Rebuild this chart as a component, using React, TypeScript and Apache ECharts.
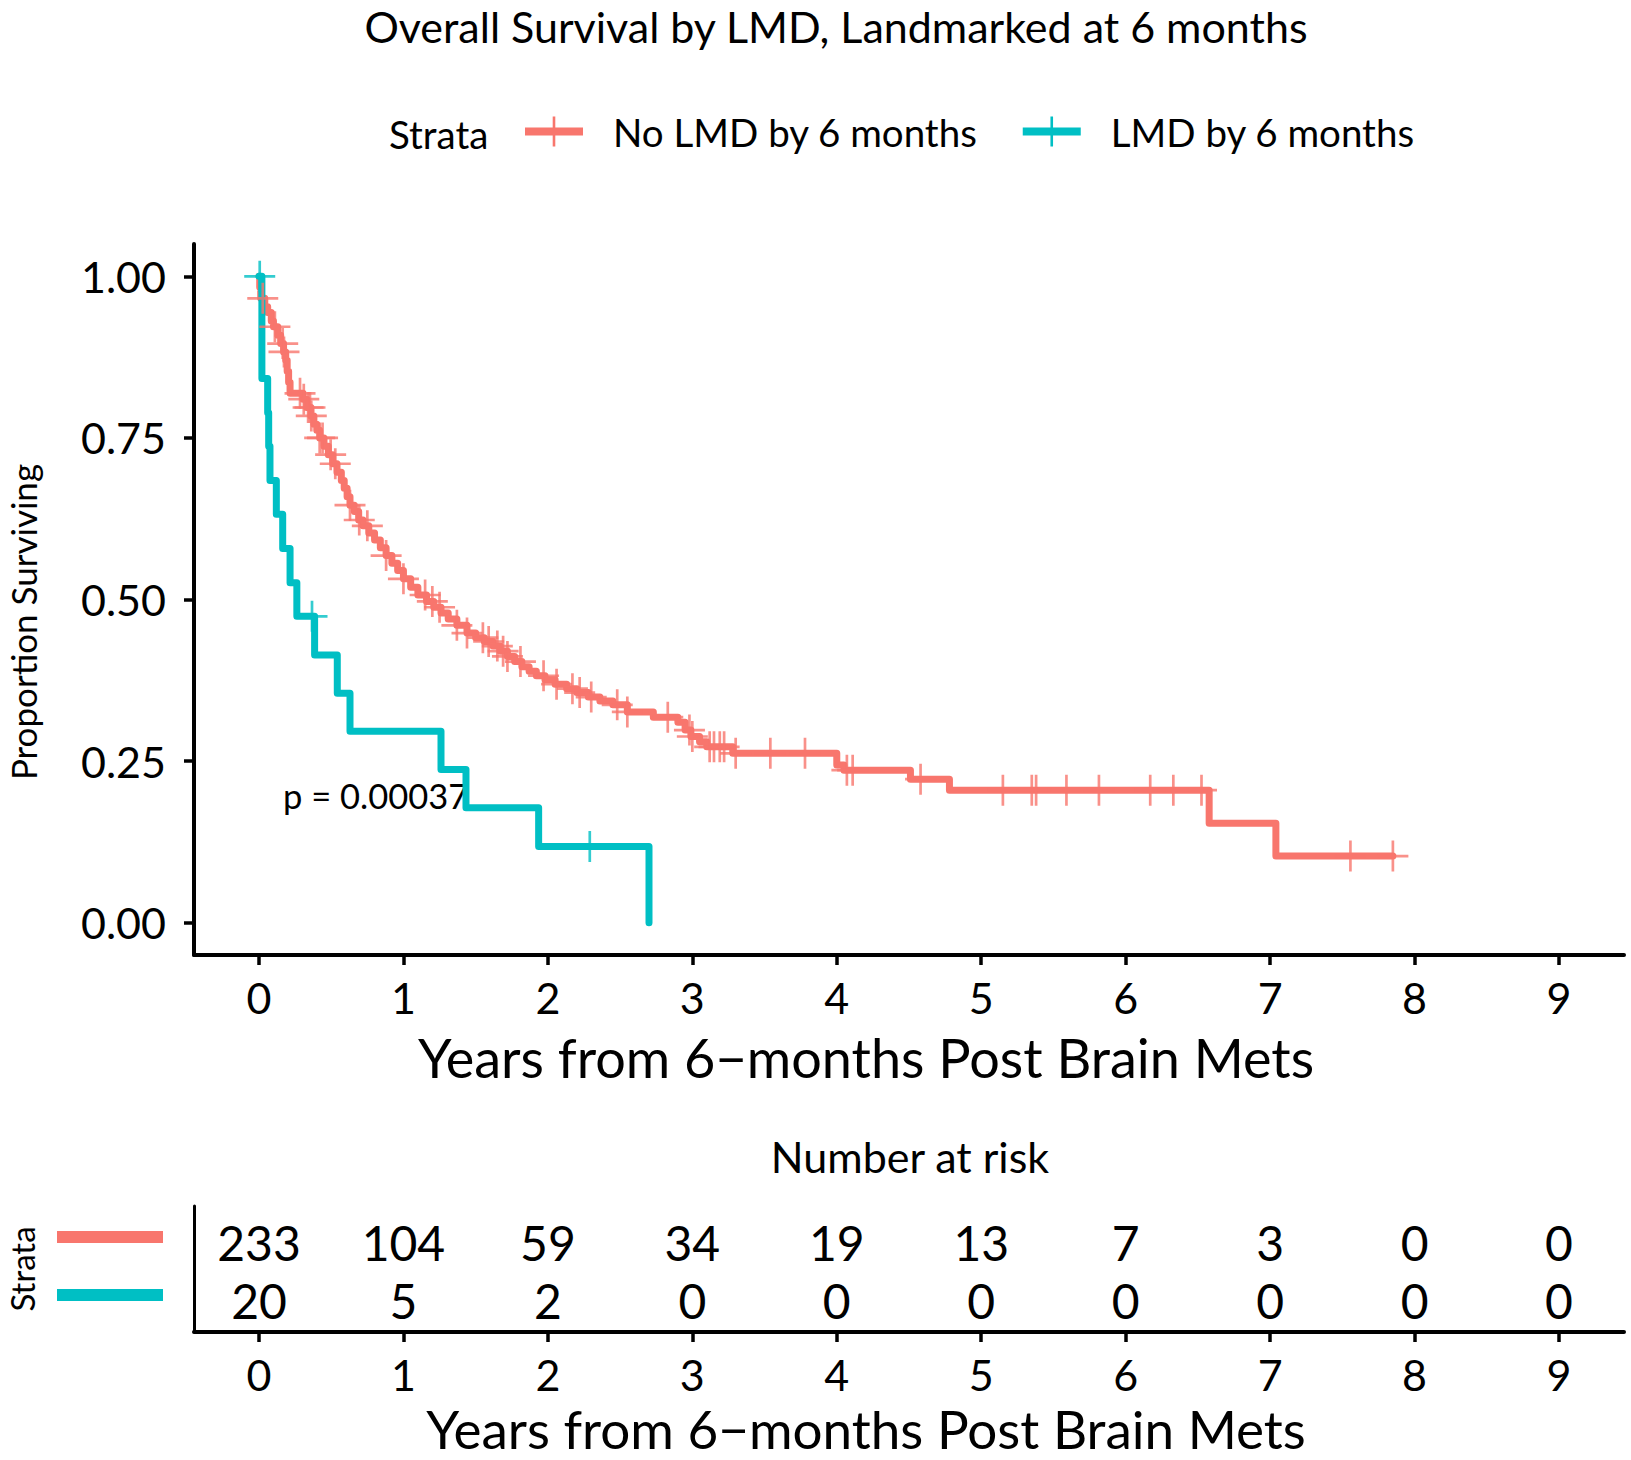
import React, { useEffect, useRef } from "react";
import * as echarts from "echarts";

const RED = "#F8766D";
const TEAL = "#00BFC4";
const FONT = "Lato";

const titleText = "Overall Survival by LMD, Landmarked at 6 months";
const legendTitle = "Strata";
const strata = ["No LMD by 6 months", "LMD by 6 months"];
const xTitle = "Years from 6\u2212months Post Brain Mets";
const yTitle = "Proportion Surviving";
const riskTitle = "Number at risk";
const pValueText = "p = 0.00037";

// Kaplan-Meier steps: time of drop and survival after it
const noLmdTimes = [0, 0.005, 0.012, 0.04, 0.06, 0.085, 0.1, 0.13, 0.15, 0.17, 0.185, 0.195, 0.205, 0.215, 0.305, 0.33, 0.36, 0.38, 0.4, 0.42, 0.45, 0.48, 0.51, 0.54, 0.57, 0.59, 0.61, 0.63, 0.66, 0.69, 0.72, 0.76, 0.8, 0.84, 0.88, 0.92, 0.96, 1.0, 1.05, 1.1, 1.16, 1.21, 1.26, 1.31, 1.37, 1.44, 1.5, 1.56, 1.62, 1.67, 1.72, 1.77, 1.82, 1.87, 1.92, 1.98, 2.05, 2.13, 2.2, 2.28, 2.36, 2.45, 2.55, 2.73, 2.9, 2.95, 2.99, 3.05, 3.1, 3.28, 4.0, 4.05, 4.51, 4.78, 6.578, 7.04];
const noLmdSurv = [1.0, 0.983, 0.966, 0.953, 0.944, 0.931, 0.922, 0.909, 0.896, 0.883, 0.87, 0.853, 0.836, 0.819, 0.81, 0.797, 0.784, 0.771, 0.762, 0.75, 0.737, 0.724, 0.71, 0.697, 0.684, 0.672, 0.659, 0.646, 0.636, 0.623, 0.614, 0.603, 0.592, 0.58, 0.568, 0.556, 0.545, 0.532, 0.519, 0.507, 0.497, 0.488, 0.479, 0.47, 0.46, 0.448, 0.441, 0.435, 0.428, 0.42, 0.412, 0.404, 0.396, 0.389, 0.382, 0.376, 0.369, 0.362, 0.356, 0.349, 0.343, 0.337, 0.326, 0.318, 0.31, 0.298, 0.288, 0.28, 0.272, 0.262, 0.244, 0.236, 0.222, 0.205, 0.154, 0.103];
const noLmdEnd = 7.85;
const noLmdCensor = [0.026, 0.11, 0.164, 0.173, 0.284, 0.31, 0.34, 0.353, 0.362, 0.42, 0.44, 0.496, 0.528, 0.63, 0.694, 0.75, 0.88, 1.0, 1.15, 1.2, 1.25, 1.37, 1.44, 1.55, 1.59, 1.65, 1.69, 1.72, 1.81, 1.97, 2.06, 2.17, 2.22, 2.3, 2.48, 2.55, 2.83, 2.98, 3.0, 3.12, 3.15, 3.19, 3.22, 3.3, 3.54, 3.78, 4.07, 4.11, 4.58, 5.15, 5.35, 5.38, 5.59, 5.815, 6.17, 6.33, 6.525, 7.556, 7.85];

const lmdTimes = [0, 0.02, 0.06, 0.067, 0.076, 0.12, 0.164, 0.215, 0.262, 0.385, 0.542, 0.63, 1.26, 1.433, 1.936, 2.7];
const lmdSurv = [1, 0.842, 0.789, 0.737, 0.684, 0.632, 0.579, 0.526, 0.474, 0.414, 0.355, 0.296, 0.237, 0.178, 0.118, 0];
const lmdEnd = 2.7;
const lmdCensor = [0.005, 0.367, 2.29];

const xTicks = [0, 1, 2, 3, 4, 5, 6, 7, 8, 9];
const yTicks = [0, 0.25, 0.5, 0.75, 1];
const riskNoLmd = [233, 104, 59, 34, 19, 13, 7, 3, 0, 0];
const riskLmd = [20, 5, 2, 0, 0, 0, 0, 0, 0, 0];

const plusPath =
  "path://M-1.3,-15L1.3,-15L1.3,-1.3L15,-1.3L15,1.3L1.3,1.3L1.3,15L-1.3,15L-1.3,1.3L-15,1.3L-15,-1.3L-1.3,-1.3Z";
const legendIcon = "path://M0,11L58,11L58,19L0,19Z M27.7,0L30.3,0L30.3,30L27.7,30Z";

function stepData(T: number[], S: number[], end: number) {
  const d = T.map((t, i) => [t, S[i]]);
  if (end > T[T.length - 1]) d.push([end, S[S.length - 1]]);
  return d;
}
function survAt(T: number[], S: number[], t: number) {
  let v = S[0];
  for (let i = 0; i < T.length; i++) if (T[i] <= t) v = S[i];
  return v;
}

function xAxisCfg(gridIndex: number) {
  return {
    gridIndex,
    type: "value",
    min: -0.45,
    max: 9.45,
    axisLine: { show: true, onZero: false, lineStyle: { color: "#000", width: 4 } },
    axisTick: { show: true, customValues: xTicks, length: 10, lineStyle: { color: "#000", width: 3.5 } },
    axisLabel: { customValues: xTicks, margin: 21, fontSize: 43, color: "#000", fontFamily: FONT },
    splitLine: { show: false },
  };
}

function riskSeries(name: string, row: number, values: number[]) {
  return {
    type: "scatter",
    name,
    xAxisIndex: 1,
    yAxisIndex: 1,
    data: xTicks.map((x, i) => [x, row, values[i]]),
    symbolSize: 1,
    itemStyle: { color: "#fff" },
    label: {
      show: true,
      position: "inside",
      formatter: (p: any) => String(p.value[2]),
      fontSize: 48,
      color: "#000",
      fontFamily: FONT,
      opacity: 1,
    },
    silent: true,
  };
}

export default function App() {
  const ref = useRef<HTMLDivElement>(null);
  useEffect(() => {
    document.body.style.margin = "0";
    if (!ref.current) return;
    const chart = echarts.init(ref.current, null, { renderer: "svg" });
    const option: any = {
      animation: false,
      backgroundColor: "#fff",
      textStyle: { fontFamily: FONT },
      grid: [
        { left: 194, top: 244, width: 1430, height: 711 },
        { left: 194, top: 1206, width: 1430, height: 126 },
      ],
      xAxis: [xAxisCfg(0), xAxisCfg(1)],
      yAxis: [
        {
          gridIndex: 0,
          type: "value",
          min: -0.05,
          max: 1.05,
          axisLine: { show: true, onZero: false, lineStyle: { color: "#000", width: 4 } },
          axisTick: { show: true, customValues: yTicks, length: 10, lineStyle: { color: "#000", width: 3.5 } },
          axisLabel: {
            customValues: yTicks,
            formatter: (v: number) => v.toFixed(2),
            margin: 28,
            fontSize: 43,
            color: "#000",
            fontFamily: FONT,
          },
          splitLine: { show: false },
        },
        {
          gridIndex: 1,
          type: "value",
          min: -0.55,
          max: 1.62,
          axisLine: { show: true, onZero: false, lineStyle: { color: "#000", width: 3 } },
          axisTick: { show: false },
          axisLabel: { show: false },
          splitLine: { show: false },
        },
      ],
      legend: {
        data: strata,
        left: 525,
        top: 112,
        padding: 0,
        icon: legendIcon,
        itemWidth: 58,
        itemHeight: 30,
        itemGap: 45,
        selectedMode: false,
        textStyle: { fontSize: 38.5, color: "#000", fontFamily: FONT, padding: [0, 0, 0, 25] },
      },
      graphic: [
        { type: "text", x: 836, y: 26, style: { text: titleText, fontSize: 43, lineHeight: 40, fontFamily: FONT, fill: "#000", align: "center", verticalAlign: "middle" } },
        { type: "text", x: 389, y: 134, style: { text: legendTitle, fontSize: 38.5, fontFamily: FONT, fill: "#000", align: "left", verticalAlign: "middle" } },
        { type: "text", x: 23, y: 622, rotation: Math.PI / 2, style: { text: yTitle, fontSize: 35, lineHeight: 34, fontFamily: FONT, fill: "#000", align: "center", verticalAlign: "middle" } },
        { type: "text", x: 866, y: 1057, style: { text: xTitle, fontSize: 54, lineHeight: 50, fontFamily: FONT, fill: "#000", align: "center", verticalAlign: "middle" } },
        { type: "text", x: 283, y: 795, style: { text: pValueText, fontSize: 34.5, fontFamily: FONT, fill: "#000", align: "left", verticalAlign: "middle" } },
        { type: "text", x: 910, y: 1156, style: { text: riskTitle, fontSize: 43, fontFamily: FONT, fill: "#000", align: "center", verticalAlign: "middle" } },
        { type: "text", x: 22, y: 1269, rotation: Math.PI / 2, style: { text: legendTitle, fontSize: 33, lineHeight: 32, fontFamily: FONT, fill: "#000", align: "center", verticalAlign: "middle" } },
        { type: "rect", shape: { x: 57, y: 1231, width: 106, height: 12 }, style: { fill: RED } },
        { type: "rect", shape: { x: 57, y: 1289, width: 106, height: 12 }, style: { fill: TEAL } },
        { type: "text", x: 866, y: 1428, style: { text: xTitle, fontSize: 53, lineHeight: 44, fontFamily: FONT, fill: "#000", align: "center", verticalAlign: "middle" } },
      ],
      series: [
        {
          type: "line",
          name: strata[0],
          xAxisIndex: 0,
          yAxisIndex: 0,
          data: stepData(noLmdTimes, noLmdSurv, noLmdEnd),
          step: "end",
          showSymbol: false,
          symbol: "none",
          color: RED,
          itemStyle: { color: RED },
          lineStyle: { color: RED, width: 7, cap: "round", join: "round" },
          z: 2,
        },
        {
          type: "line",
          name: strata[1],
          xAxisIndex: 0,
          yAxisIndex: 0,
          data: stepData(lmdTimes, lmdSurv, lmdEnd),
          step: "end",
          showSymbol: false,
          symbol: "none",
          color: TEAL,
          itemStyle: { color: TEAL },
          lineStyle: { color: TEAL, width: 7, cap: "round", join: "round" },
          z: 2,
        },
        {
          type: "scatter",
          name: "censor-no-lmd",
          xAxisIndex: 0,
          yAxisIndex: 0,
          data: noLmdCensor.map((t) => [t, survAt(noLmdTimes, noLmdSurv, t)]),
          symbol: plusPath,
          symbolSize: 31,
          itemStyle: { color: RED },
          silent: true,
          z: 3,
        },
        {
          type: "scatter",
          name: "censor-lmd",
          xAxisIndex: 0,
          yAxisIndex: 0,
          data: lmdCensor.map((t) => [t, survAt(lmdTimes, lmdSurv, t)]),
          symbol: plusPath,
          symbolSize: 31,
          itemStyle: { color: TEAL },
          silent: true,
          z: 3,
        },
        riskSeries("risk-no-lmd", 1, riskNoLmd),
        riskSeries("risk-lmd", 0, riskLmd),
      ],
    };
    chart.setOption(option);
    return () => chart.dispose();
  }, []);
  return <div ref={ref} style={{ width: 1631, height: 1460 }} />;
}
